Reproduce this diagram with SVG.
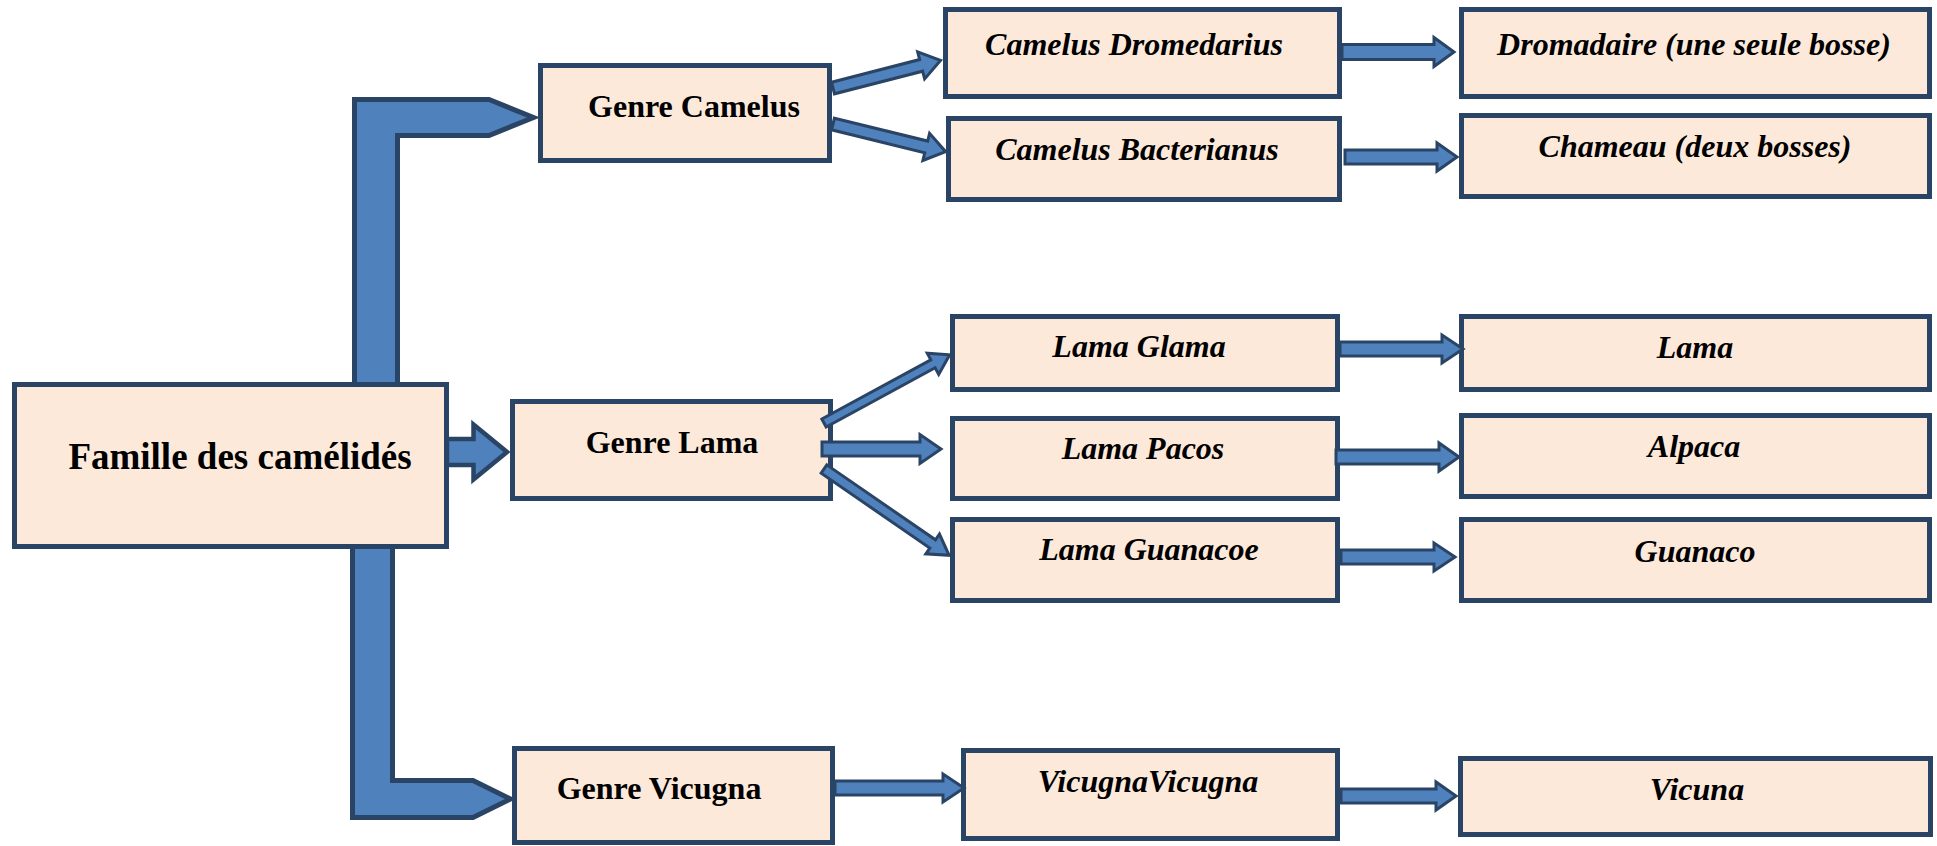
<svg xmlns="http://www.w3.org/2000/svg" width="1937" height="846" viewBox="0 0 1937 846">
<style>
.box{fill:#FCE9DA;stroke:#2A4466;stroke-width:5}
.big{fill:#4F81BD;stroke:#2A4466;stroke-width:5;stroke-linejoin:miter}
.arr{fill:#4F81BD;stroke:#2A4466;stroke-width:3;stroke-linejoin:miter}
.t{font-family:"Liberation Serif","Times New Roman",serif;font-weight:bold;fill:#000;text-anchor:middle}
.g{font-size:32px}
.sp{font-size:32px;font-style:italic}
</style>
<rect width="1937" height="846" fill="#fff"/>
<g id="nodes">
<g id="famille"><rect class="box" x="14.5" y="384.5" width="432" height="162"/><text class="t" x="240" y="469" font-size="37">Famille des camélidés</text></g>
<g id="genre-camelus"><rect class="box" x="540.5" y="65.5" width="289" height="95"/><text class="t g" x="694" y="117">Genre Camelus</text></g>
<g id="genre-lama"><rect class="box" x="512.5" y="401.5" width="318" height="97"/><text class="t g" x="672" y="453">Genre Lama</text></g>
<g id="genre-vicugna"><rect class="box" x="514.5" y="748.5" width="318" height="94"/><text class="t g" x="659" y="799">Genre Vicugna</text></g>
<g id="camelus-dromedarius"><rect class="box" x="945.5" y="9.5" width="394" height="87"/><text class="t sp" x="1134" y="55">Camelus Dromedarius</text></g>
<g id="camelus-bacterianus"><rect class="box" x="948.5" y="118.5" width="391" height="81"/><text class="t sp" x="1137" y="160">Camelus Bacterianus</text></g>
<g id="dromadaire"><rect class="box" x="1461.5" y="9.5" width="468" height="87"/><text class="t sp" x="1694" y="55">Dromadaire (une seule bosse)</text></g>
<g id="chameau"><rect class="box" x="1461.5" y="115.5" width="468" height="81"/><text class="t sp" x="1695" y="157">Chameau (deux bosses)</text></g>
<g id="lama-glama"><rect class="box" x="952.5" y="316.5" width="385" height="73"/><text class="t sp" x="1139" y="357">Lama Glama</text></g>
<g id="lama-pacos"><rect class="box" x="952.5" y="418.5" width="385" height="80"/><text class="t sp" x="1143" y="459">Lama Pacos</text></g>
<g id="lama-guanacoe"><rect class="box" x="952.5" y="519.5" width="385" height="81"/><text class="t sp" x="1149" y="560">Lama Guanacoe</text></g>
<g id="lama"><rect class="box" x="1461.5" y="316.5" width="468" height="73"/><text class="t sp" x="1695" y="358">Lama</text></g>
<g id="alpaca"><rect class="box" x="1461.5" y="415.5" width="468" height="81"/><text class="t sp" x="1694" y="457">Alpaca</text></g>
<g id="guanaco"><rect class="box" x="1461.5" y="519.5" width="468" height="81"/><text class="t sp" x="1695" y="562">Guanaco</text></g>
<g id="vicugna-vicugna"><rect class="box" x="963.5" y="750.5" width="374" height="88"/><text class="t sp" x="1148" y="792">VicugnaVicugna</text></g>
<g id="vicuna"><rect class="box" x="1460.5" y="758.5" width="470" height="76"/><text class="t sp" x="1697" y="800">Vicuna</text></g>
</g>
<g id="connectors">
<path class="big" d="M354.5,384.5 L354.5,99.5 L489,99.5 L533.5,117.5 L489,135.5 L397.5,135.5 L397.5,384.5 Z"/>
<path class="big" d="M352.5,546.5 L352.5,817.5 L473,817.5 L510.5,799 L473,780.5 L392.5,780.5 L392.5,546.5 Z" />
<path class="arr" style="stroke-width:4.5" d="M447,439 L473.5,439 L473.5,424.5 L507,452 L473.5,479.5 L473.5,465 L447,465 Z"/>
<path class="arr" transform="translate(833,88) rotate(-14.4)" d="M0,-6 H91 V-14 L111,0 L91,14 V6 H0 Z"/>
<path class="arr" transform="translate(833,124) rotate(13.8)" d="M0,-6 H96 V-14 L116,0 L96,14 V6 H0 Z"/>
<path class="arr" transform="translate(824,423) rotate(-28.5)" d="M0,-4.5 H124 V-12 L143,0 L124,12 V4.5 H0 Z"/>
<path class="arr" transform="translate(824,469) rotate(34.6)" d="M0,-5 H132 V-12 L152,0 L132,12 V5 H0 Z"/>
<path class="arr" d="M822,442 H920 V434.5 L941,449 L920,463.5 V456 H822 Z"/>
<path class="arr" d="M1342,44.5 H1434 V37.5 L1454,52 L1434,66.5 V59.5 H1342 Z"/>
<path class="arr" d="M1345,150 H1437 V143 L1457,157 L1437,171 V164 H1345 Z"/>
<path class="arr" d="M1340,342 H1442 V335 L1463,349 L1442,363 V356 H1340 Z"/>
<path class="arr" d="M1336,450 H1439 V443 L1459,457 L1439,471 V464 H1336 Z"/>
<path class="arr" d="M1341,550 H1434 V543 L1455,557 L1434,571 V564 H1341 Z"/>
<path class="arr" d="M835,781 H943 V774 L964,788 L943,802 V795 H835 Z"/>
<path class="arr" d="M1341,789 H1436 V782 L1456,796 L1436,810 V803 H1341 Z"/>
</g>
</svg>
